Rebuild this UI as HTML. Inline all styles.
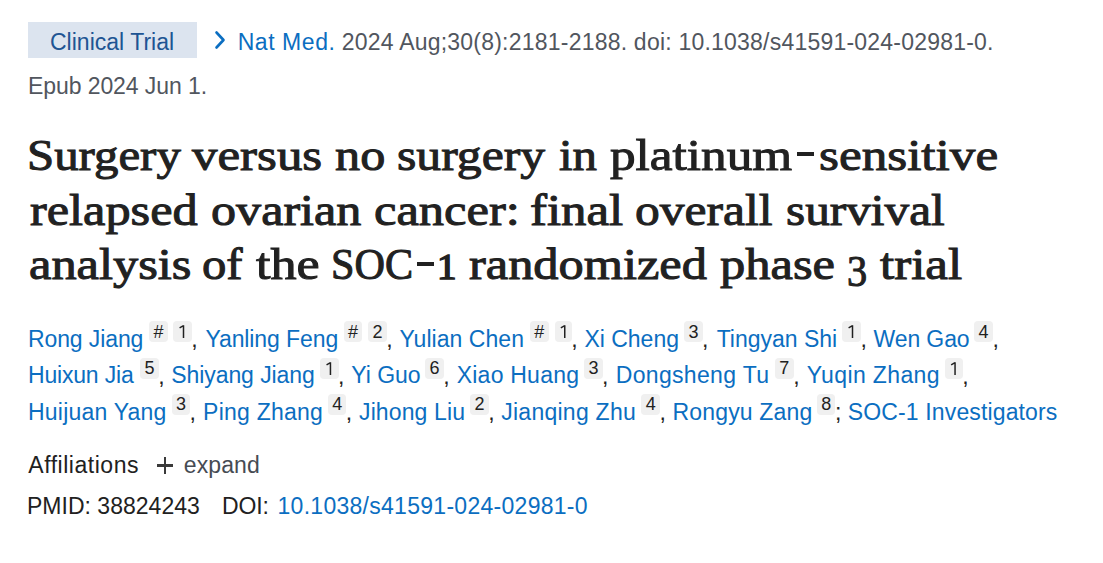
<!DOCTYPE html>
<html><head><meta charset="utf-8">
<style>
html,body{margin:0;padding:0;background:#fff;width:1103px;height:563px;overflow:hidden;position:relative}
body{font-family:"Liberation Sans",sans-serif;color:#212121}
.a{position:absolute;white-space:nowrap}
.s{font-size:23.0px;line-height:28px}
.t{font-family:"Liberation Serif",serif;font-size:45.0px;line-height:54px;-webkit-text-stroke:1.0px #212121;transform-origin:0 0}
.badge{position:absolute;left:28px;top:22px;width:169px;height:36px;background:#dce4ef}
.bx{position:absolute;height:21px;background:#f0f0f0;border-radius:4px;text-align:center;font-size:18px;line-height:21px;color:#212121}
.bx span{position:relative;top:0.5px}
.pl{position:absolute;background:#3a3a3a}
</style></head><body>
<div class="badge"></div>
<svg style="position:absolute;left:205px;top:25px" width="30" height="30" viewBox="205 25 30 30"><path d="M216.5 32.5 L223.5 40 L216.5 47.5" fill="none" stroke="#0b6ec1" stroke-width="2.6" stroke-linecap="round" stroke-linejoin="round"/></svg>
<div class="pl" style="left:797px;top:152.4px;width:17.3px;height:3.6px;background:#212121"></div>
<div class="pl" style="left:416.8px;top:262px;width:17.4px;height:3.8px;background:#212121"></div>
<div class="a t" style="left:436.85px;top:240.0px;font-size:35.5px;-webkit-text-stroke-width:1.5px;transform:scaleX(1.1)">1</div>
<div class="a t" style="left:847.3px;top:244.4px;transform:scaleX(0.896)">3</div>
<div class="pl" style="left:157px;top:464.2px;width:16px;height:2.5px"></div>
<div class="pl" style="left:163.7px;top:457px;width:2.7px;height:16.6px"></div>
<div class="a s" style="left:50.00px;top:28.0px;letter-spacing:0.009px;color:#205493">Clinical Trial</div>
<div class="a s" style="left:237.70px;top:28.0px;letter-spacing:0.554px;color:#0b6ec1">Nat Med.</div>
<div class="a s" style="left:341.80px;top:28.0px;letter-spacing:0.216px;color:#51565e">2024 Aug;30(8):2181-2188. doi: 10.1038/s41591-024-02981-0.</div>
<div class="a s" style="left:28.00px;top:72.0px;letter-spacing:-0.082px;color:#51565e">Epub 2024 Jun 1.</div>
<div class="a t" style="left:27.09px;top:128.0px;transform:scaleX(1.0859);color:#212121">Surgery</div>
<div class="a t" style="left:192.27px;top:128.0px;transform:scaleX(1.1322);color:#212121">versus</div>
<div class="a t" style="left:334.54px;top:128.0px;transform:scaleX(1.1172);color:#212121">no</div>
<div class="a t" style="left:396.95px;top:128.0px;transform:scaleX(1.1037);color:#212121">surgery</div>
<div class="a t" style="left:558.54px;top:128.0px;transform:scaleX(1.0872);color:#212121">in</div>
<div class="a t" style="left:609.77px;top:128.0px;transform:scaleX(1.1386);color:#212121">platinum</div>
<div class="a t" style="left:819.43px;top:128.0px;transform:scaleX(1.1373);color:#212121">sensitive</div>
<div class="a t" style="left:30.06px;top:182.5px;transform:scaleX(1.1182);color:#212121">relapsed</div>
<div class="a t" style="left:210.64px;top:182.5px;transform:scaleX(1.1143);color:#212121">ovarian</div>
<div class="a t" style="left:373.54px;top:182.5px;transform:scaleX(1.1228);color:#212121">cancer:</div>
<div class="a t" style="left:530.44px;top:182.5px;transform:scaleX(1.1298);color:#212121">final</div>
<div class="a t" style="left:635.45px;top:182.5px;transform:scaleX(1.1010);color:#212121">overall</div>
<div class="a t" style="left:785.85px;top:182.5px;transform:scaleX(1.0950);color:#212121">survival</div>
<div class="a t" style="left:28.94px;top:237.0px;transform:scaleX(1.1208);color:#212121">analysis</div>
<div class="a t" style="left:202.46px;top:237.0px;transform:scaleX(1.0827);color:#212121">of</div>
<div class="a t" style="left:255.78px;top:237.0px;transform:scaleX(1.1581);color:#212121">the</div>
<div class="a t" style="left:331.06px;top:237.0px;transform:scaleX(0.9375);color:#212121">SOC</div>
<div class="a t" style="left:468.86px;top:237.0px;transform:scaleX(1.1197);color:#212121">randomized</div>
<div class="a t" style="left:720.36px;top:237.0px;transform:scaleX(1.1221);color:#212121">phase</div>
<div class="a t" style="left:880.37px;top:237.0px;transform:scaleX(1.1334);color:#212121">trial</div>
<div class="a s" style="left:28.00px;top:325.0px;letter-spacing:-0.107px;color:#0b6ec1">Rong Jiang</div>
<div class="a s" style="left:205.40px;top:325.0px;letter-spacing:-0.095px;color:#0b6ec1">Yanling Feng</div>
<div class="a s" style="left:399.50px;top:325.0px;letter-spacing:0.045px;color:#0b6ec1">Yulian Chen</div>
<div class="a s" style="left:584.40px;top:325.0px;letter-spacing:-0.004px;color:#0b6ec1">Xi Cheng</div>
<div class="a s" style="left:716.70px;top:325.0px;letter-spacing:-0.019px;color:#0b6ec1">Tingyan Shi</div>
<div class="a s" style="left:873.60px;top:325.0px;letter-spacing:-0.125px;color:#0b6ec1">Wen Gao</div>
<div class="a s" style="left:28.00px;top:361.0px;letter-spacing:-0.188px;color:#0b6ec1">Huixun Jia</div>
<div class="a s" style="left:171.30px;top:361.0px;letter-spacing:-0.083px;color:#0b6ec1">Shiyang Jiang</div>
<div class="a s" style="left:351.20px;top:361.0px;letter-spacing:-0.014px;color:#0b6ec1">Yi Guo</div>
<div class="a s" style="left:456.70px;top:361.0px;letter-spacing:0.232px;color:#0b6ec1">Xiao Huang</div>
<div class="a s" style="left:615.70px;top:361.0px;letter-spacing:0.333px;color:#0b6ec1">Dongsheng Tu</div>
<div class="a s" style="left:806.70px;top:361.0px;letter-spacing:0.363px;color:#0b6ec1">Yuqin Zhang</div>
<div class="a s" style="left:28.00px;top:398.0px;letter-spacing:0.218px;color:#0b6ec1">Huijuan Yang</div>
<div class="a s" style="left:203.10px;top:398.0px;letter-spacing:0.228px;color:#0b6ec1">Ping Zhang</div>
<div class="a s" style="left:359.00px;top:398.0px;letter-spacing:0.126px;color:#0b6ec1">Jihong Liu</div>
<div class="a s" style="left:501.20px;top:398.0px;letter-spacing:0.263px;color:#0b6ec1">Jianqing Zhu</div>
<div class="a s" style="left:672.60px;top:398.0px;letter-spacing:0.150px;color:#0b6ec1">Rongyu Zang</div>
<div class="a s" style="left:847.80px;top:398.0px;letter-spacing:0.135px;color:#0b6ec1">SOC-1 Investigators</div>
<div class="a s" style="left:28.30px;top:451.0px;letter-spacing:0.526px;color:#212121">Affiliations</div>
<div class="a s" style="left:183.80px;top:451.0px;letter-spacing:0.107px;color:#464b53">expand</div>
<div class="a s" style="left:27.00px;top:492.0px;letter-spacing:0.014px;color:#212121">PMID: 38824243</div>
<div class="a s" style="left:222.00px;top:492.0px;letter-spacing:-0.130px;color:#212121">DOI:</div>
<div class="a s" style="left:277.50px;top:492.0px;letter-spacing:0.280px;color:#0b6ec1">10.1038/s41591-024-02981-0</div>
<div class="bx" style="left:149.1px;top:321.0px;width:18.6px"><span>#</span></div>
<div class="bx" style="left:173.0px;top:321.0px;width:18.7px"><svg width="18.7" height="21" style="position:absolute;left:0;top:0"><path d="M10.50 4.2 V17 M10.50 4.6 L6.60 6.8" stroke="#212121" stroke-width="1.5" fill="none"/></svg></div>
<div class="bx" style="left:344.0px;top:321.0px;width:18.0px"><span>#</span></div>
<div class="bx" style="left:368.0px;top:321.0px;width:18.8px"><span>2</span></div>
<div class="bx" style="left:529.5px;top:321.0px;width:19.5px"><span>#</span></div>
<div class="bx" style="left:554.5px;top:321.0px;width:17.2px"><svg width="17.2" height="21" style="position:absolute;left:0;top:0"><path d="M9.75 4.2 V17 M9.75 4.6 L5.85 6.8" stroke="#212121" stroke-width="1.5" fill="none"/></svg></div>
<div class="bx" style="left:684.2px;top:321.0px;width:18.4px"><span>3</span></div>
<div class="bx" style="left:842.3px;top:321.0px;width:18.7px"><svg width="18.7" height="21" style="position:absolute;left:0;top:0"><path d="M10.50 4.2 V17 M10.50 4.6 L6.60 6.8" stroke="#212121" stroke-width="1.5" fill="none"/></svg></div>
<div class="bx" style="left:974.2px;top:321.0px;width:18.8px"><span>4</span></div>
<div class="bx" style="left:140.2px;top:357.5px;width:18.5px"><span>5</span></div>
<div class="bx" style="left:320.0px;top:357.5px;width:18.6px"><svg width="18.6" height="21" style="position:absolute;left:0;top:0"><path d="M10.45 4.2 V17 M10.45 4.6 L6.55 6.8" stroke="#212121" stroke-width="1.5" fill="none"/></svg></div>
<div class="bx" style="left:425.2px;top:357.5px;width:18.5px"><span>6</span></div>
<div class="bx" style="left:584.2px;top:357.5px;width:18.4px"><span>3</span></div>
<div class="bx" style="left:775.0px;top:357.5px;width:18.7px"><span>7</span></div>
<div class="bx" style="left:945.0px;top:357.5px;width:17.8px"><svg width="17.8" height="21" style="position:absolute;left:0;top:0"><path d="M10.05 4.2 V17 M10.05 4.6 L6.15 6.8" stroke="#212121" stroke-width="1.5" fill="none"/></svg></div>
<div class="bx" style="left:172.0px;top:393.5px;width:17.9px"><span>3</span></div>
<div class="bx" style="left:328.2px;top:393.5px;width:18.1px"><span>4</span></div>
<div class="bx" style="left:470.2px;top:393.5px;width:18.5px"><span>2</span></div>
<div class="bx" style="left:641.4px;top:393.5px;width:18.6px"><span>4</span></div>
<div class="bx" style="left:816.8px;top:393.5px;width:18.7px"><span>8</span></div>
<div class="a s" style="left:191.2px;top:325.0px;color:#212121">,</div>
<div class="a s" style="left:386.3px;top:325.0px;color:#212121">,</div>
<div class="a s" style="left:571.2px;top:325.0px;color:#212121">,</div>
<div class="a s" style="left:702.1px;top:325.0px;color:#212121">,</div>
<div class="a s" style="left:860.5px;top:325.0px;color:#212121">,</div>
<div class="a s" style="left:992.5px;top:325.0px;color:#212121">,</div>
<div class="a s" style="left:158.2px;top:361.5px;color:#212121">,</div>
<div class="a s" style="left:338.1px;top:361.5px;color:#212121">,</div>
<div class="a s" style="left:443.2px;top:361.5px;color:#212121">,</div>
<div class="a s" style="left:602.1px;top:361.5px;color:#212121">,</div>
<div class="a s" style="left:793.2px;top:361.5px;color:#212121">,</div>
<div class="a s" style="left:962.3px;top:361.5px;color:#212121">,</div>
<div class="a s" style="left:189.4px;top:397.5px;color:#212121">,</div>
<div class="a s" style="left:345.8px;top:397.5px;color:#212121">,</div>
<div class="a s" style="left:488.2px;top:397.5px;color:#212121">,</div>
<div class="a s" style="left:659.5px;top:397.5px;color:#212121">,</div>
<div class="a s" style="left:835.0px;top:397.5px;color:#212121">;</div>
</body></html>
